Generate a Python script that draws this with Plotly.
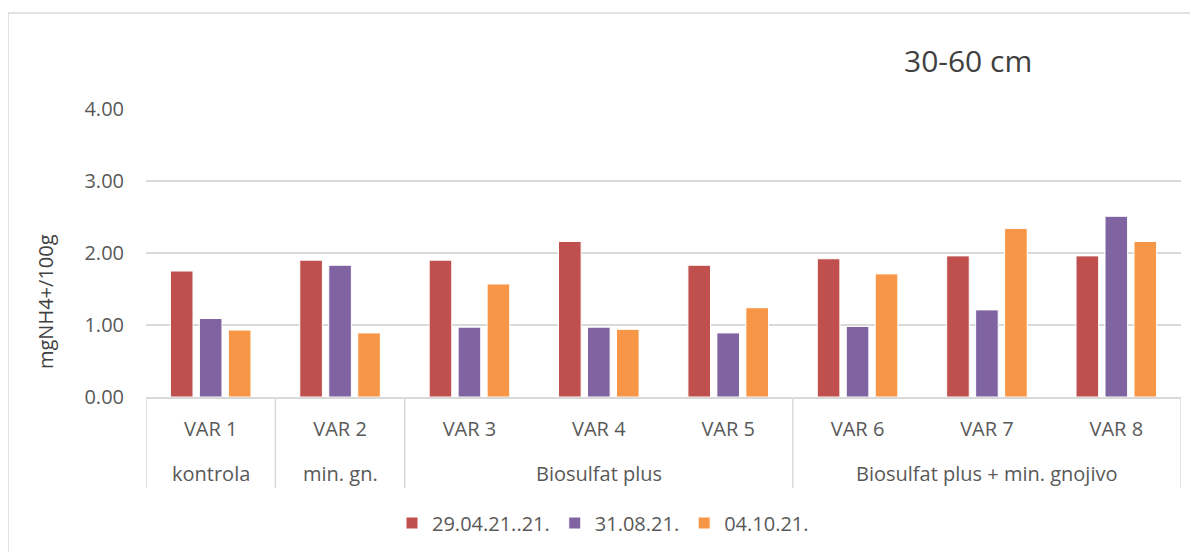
import plotly.graph_objects as go

categories = ["VAR 1", "VAR 2", "VAR 3", "VAR 4", "VAR 5", "VAR 6", "VAR 7", "VAR 8"]
groups = ["kontrola", "min. gn.", "Biosulfat plus", "Biosulfat plus + min. gnojivo"]
group_centers = ["VAR 1", "VAR 2", "VAR 4", "VAR 7"]
group_bounds = [-0.5, 0.5, 1.5, 4.5, 7.5]

series_names = ["29.04.21..21.", "31.08.21.", "04.10.21."]
s1 = [1.75, 1.90, 1.90, 2.16, 1.83, 1.92, 1.96, 1.96]
s2 = [1.09, 1.83, 0.97, 0.97, 0.89, 0.98, 1.21, 2.51]
s3 = [0.93, 0.89, 1.57, 0.94, 1.24, 1.71, 2.34, 2.16]
colors = ["#C0504D", "#8064A2", "#F79646"]

FONT = "Open Sans"
GRAY = "#595959"

fig = go.Figure()
for name, vals, col in zip(series_names, [s1, s2, s3], colors):
    fig.add_trace(go.Bar(x=categories, y=vals, name=name,
                         marker=dict(color=col, line=dict(color="white", width=1))))

OFF = 8  # page body margin
W, H = 1190, 544
L, R, T, B = 146 - OFF, 17, 109 - OFF, 155
pw, ph = W - L - R, H - T - B

def px(x):
    return (x - OFF - L) / pw

def py(y):
    return 1 - (y - OFF - T) / ph

shapes = []
for b in group_bounds:
    shapes.append(dict(type="line", xref="x", yref="paper", x0=b, x1=b,
                       y0=0, y1=py(488), line=dict(color="#D9D9D9", width=1.5)))
shapes.append(dict(type="rect", xref="paper", yref="paper", x0=px(8), x1=px(1260),
                   y0=py(620), y1=py(13), line=dict(color="#D9D9D9", width=1.5),
                   fillcolor="rgba(0,0,0,0)", layer="below"))

annotations = []
for g, c in zip(groups, group_centers):
    annotations.append(dict(text=g, x=c, xref="x", y=py(473), yref="paper",
                            showarrow=False, xanchor="center", yanchor="middle",
                            font=dict(family=FONT, size=20, color=GRAY)))
annotations.append(dict(text="30-60 cm", x=px(968), y=py(60), xref="paper", yref="paper",
                        showarrow=False, xanchor="center", yanchor="middle",
                        font=dict(family=FONT, size=30, color="#404040")))
annotations.append(dict(text="mgNH4+/100g", x=px(45), y=py(302), xref="paper", yref="paper",
                        showarrow=False, textangle=-90, xanchor="center", yanchor="middle",
                        font=dict(family=FONT, size=20, color="#404040")))

fig.update_layout(
    width=W, height=H,
    margin=dict(l=L, r=R, t=T, b=B, autoexpand=False),
    paper_bgcolor="white", plot_bgcolor="white",
    barmode="group", bargap=0.328, bargroupgap=0.22,
    font=dict(family=FONT, color=GRAY),
    showlegend=True,
    legend=dict(orientation="h", x=px(392), xanchor="left", y=py(523), yanchor="middle",
                font=dict(family=FONT, size=20, color=GRAY), bgcolor="rgba(0,0,0,0)"),
    shapes=shapes, annotations=annotations,
)
fig.update_xaxes(type="category", range=[-0.5, 7.5], showgrid=False, showline=True,
                 linecolor="#D9D9D9", linewidth=1.5, ticks="", ticklabelstandoff=13,
                 tickfont=dict(family=FONT, size=20, color=GRAY))
fig.update_yaxes(range=[0, 4], dtick=1, tickformat=".2f", showgrid=True,
                 gridcolor="#D9D9D9", gridwidth=1.5, zeroline=False, showline=False,
                 ticks="", ticklabelstandoff=21,
                 tickfont=dict(family=FONT, size=20, color=GRAY))

fig.write_html("out.html")
